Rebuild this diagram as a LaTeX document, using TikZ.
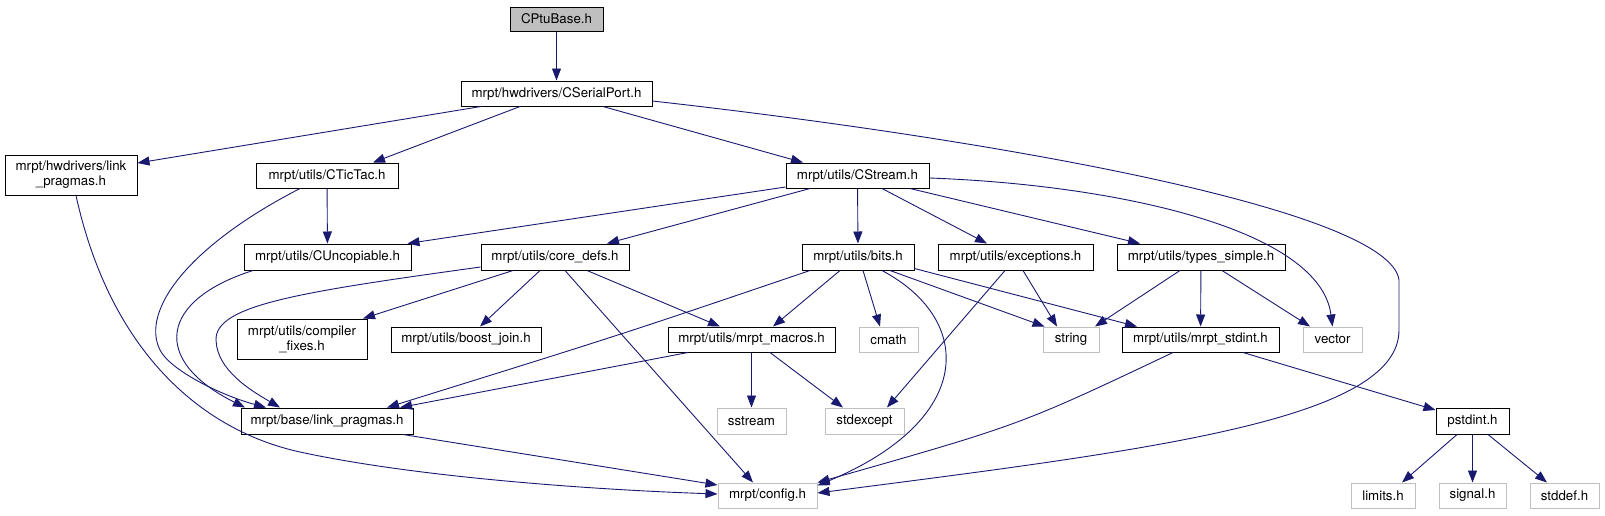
\documentclass[tikz,border=0pt]{standalone}
\usepackage{fontspec}
\setmainfont{TeX Gyre Heros}
\usetikzlibrary{arrows.meta}
\definecolor{edgec}{HTML}{191970}
\definecolor{grayb}{HTML}{BFBFBF}
\begin{document}
\begin{tikzpicture}[x=1pt,y=-1pt,
  box/.style={draw=black, line width=1pt, fill=white, inner sep=0pt,
    font=\fontsize{13.3}{15}\selectfont, align=center},
  sysbox/.style={box, draw=grayb},
  sz/.style 2 args={minimum width=#1pt, minimum height=#2pt},
  edge/.style={draw=edgec, line width=0.9pt, -{Triangle[length=12pt,width=9pt]}}]
\useasboundingbox (0,0) rectangle (1605,515);

% nodes
\node[box, fill=grayb, sz={93}{24}] (cptu) at (556.5,19) {CPtuBase.h};
\node[box, sz={191}{25}] (csp) at (556.5,93.5) {mrpt/hwdrivers/CSerialPort.h};
\node[box, sz={132}{40}] (hwlp) at (71,175) {mrpt/hwdrivers/link\\\_pragmas.h};
\node[box, sz={142}{25}] (ctictac) at (327,175.5) {mrpt/utils/CTicTac.h};
\node[box, sz={143}{25}] (cstream) at (857.5,175.5) {mrpt/utils/CStream.h};
\node[box, sz={167}{26}] (cunc) at (327.5,257) {mrpt/utils/CUncopiable.h};
\node[box, sz={148}{26}] (cored) at (555,257) {mrpt/utils/core\_defs.h};
\node[box, sz={112}{26}] (bits) at (858,257) {mrpt/utils/bits.h};
\node[box, sz={155}{26}] (exc) at (1015.5,257) {mrpt/utils/exceptions.h};
\node[box, sz={168}{26}] (types) at (1201,257) {mrpt/utils/types\_simple.h};
\node[box, sz={130}{40}] (compf) at (302,339) {mrpt/utils/compiler\\\_fixes.h};
\node[box, sz={150}{25}] (boost) at (466,339.5) {mrpt/utils/boost\_join.h};
\node[box, sz={167}{25}] (macros) at (751.5,339.5) {mrpt/utils/mrpt\_macros.h};
\node[sysbox, sz={59}{25}] (cmath) at (888.5,339.5) {cmath};
\node[sysbox, sz={56}{25}] (string) at (1071,339.5) {string};
\node[box, sz={157}{25}] (stdint) at (1200.5,339.5) {mrpt/utils/mrpt\_stdint.h};
\node[sysbox, sz={59}{25}] (vector) at (1332.5,339.5) {vector};
\node[box, sz={172}{26}] (blp) at (327,421) {mrpt/base/link\_pragmas.h};
\node[sysbox, sz={69}{26}] (sstream) at (751.5,421) {sstream};
\node[sysbox, sz={79}{26}] (stdexc) at (864.5,421) {stdexcept};
\node[box, sz={73}{26}] (pstdint) at (1472.5,421) {pstdint.h};
\node[sysbox, sz={99}{25}] (config) at (767.5,495.5) {mrpt/config.h};
\node[sysbox, sz={64}{25}] (limits) at (1383,495.5) {limits.h};
\node[sysbox, sz={67}{25}] (signal) at (1472.5,495.5) {signal.h};
\node[sysbox, sz={69}{25}] (stddef) at (1564.5,495.5) {stddef.h};

% edges
\draw[edge] (cptu) -- (csp);
\draw[edge] ([xshift=-75.5pt]csp.south) -- ([yshift=12pt]hwlp.east);
\draw[edge] ([xshift=-36.5pt]csp.south) -- ([xshift=46pt]ctictac.north);
\draw[edge] ([xshift=46.5pt]csp.south) -- ([xshift=-54.5pt]cstream.north);
\draw[edge] ([yshift=-7.5pt]csp.east) .. controls (1000,140) and (1390,210) .. (1399,280)
  -- (1399,330) .. controls (1399,420) and (1150,450) .. ([yshift=2.5pt]config.east);
\draw[edge] ([xshift=5pt]hwlp.south) .. controls (110,350) and (200,430) .. (300,452)
  .. controls (420,478) and (600,490) .. ([yshift=1.5pt]config.west);
\draw[edge] ([xshift=76pt]blp.south) -- ([yshift=10.5pt]config.west);
\draw[edge] (ctictac) -- (cunc);
\draw[edge] ([xshift=-27pt]ctictac.south) .. controls (190,245) and (140,310) .. (160,350)
  .. controls (170,370) and (220,395) .. ([xshift=-61pt]blp.north);
\draw[edge] ([xshift=-74.5pt]cunc.south) .. controls (160,300) and (150,360) .. ([xshift=-82pt]blp.north);
\draw[edge] ([yshift=-10pt]cored.west) .. controls (300,292) and (215,305) .. (216,340)
  .. controls (217,370) and (250,390) .. ([xshift=-47pt]blp.north);
\draw[edge] ([yshift=-11.5pt]cstream.west) -- ([xshift=80pt]cunc.north);
\draw[edge] ([xshift=-47.5pt]cstream.south) -- ([xshift=52pt]cored.north);
\draw[edge] (cstream) -- (bits);
\draw[edge] ([xshift=24.5pt]cstream.south) -- ([xshift=-28.5pt]exc.north);
\draw[edge] ([xshift=52.5pt]cstream.south) -- ([xshift=-61pt]types.north);
\draw[edge] ([yshift=-2.5pt]cstream.east) .. controls (1120,185) and (1320,230) .. (vector.north);
\draw[edge] ([xshift=-42pt]cored.south) -- ([xshift=61pt]compf.north);
\draw[edge] ([xshift=-15pt]cored.south) -- ([xshift=14pt]boost.north);
\draw[edge] ([xshift=32pt]cored.south) -- ([xshift=-31.5pt]macros.north);
\draw[edge] ([xshift=10pt]cored.south) -- ([xshift=-14.5pt]config.north);
\draw[edge] ([xshift=-48pt]bits.south) .. controls (620,335) .. ([xshift=60pt]blp.north);
\draw[edge] ([xshift=-18pt]bits.south) -- ([xshift=21.5pt]macros.north);
\draw[edge] ([xshift=5pt]bits.south) -- ([xshift=-8.5pt]cmath.north);
\draw[edge] ([xshift=24pt]bits.south) .. controls (975,320) and (975,420) .. ([yshift=10pt]config.east);
\draw[edge] ([xshift=32pt]bits.south) -- ([xshift=2pt]string.north west);
\draw[edge] ([yshift=2pt]bits.south east) -- ([xshift=-63.5pt]stdint.north);
\draw[edge] ([xshift=7.5pt]exc.south) -- ([xshift=-14pt]string.north);
\draw[edge] ([xshift=-10.5pt]exc.south) -- ([xshift=22.5pt]stdexc.north);
\draw[edge] ([xshift=-21pt]types.south) -- ([xshift=24pt]string.north);
\draw[edge] (types) -- (stdint);
\draw[edge] ([xshift=21pt]types.south) -- ([xshift=-22.5pt]vector.north);
\draw[edge] ([xshift=-63.5pt]macros.south) -- ([xshift=73pt]blp.north);
\draw[edge] (macros) -- (sstream);
\draw[edge] ([xshift=18.5pt]macros.south) -- ([xshift=-21.5pt]stdexc.north);
\draw[edge] ([xshift=-27.5pt]stdint.south) .. controls (1020,425) .. (config.north east);
\draw[edge] ([xshift=42.5pt]stdint.south) -- ([yshift=11pt]pstdint.west);
\draw[edge] ([xshift=-15.5pt]pstdint.south) -- ([xshift=19pt]limits.north);
\draw[edge] (pstdint) -- (signal);
\draw[edge] ([xshift=15.5pt]pstdint.south) -- ([xshift=-17.5pt]stddef.north);
\end{tikzpicture}
\end{document}
